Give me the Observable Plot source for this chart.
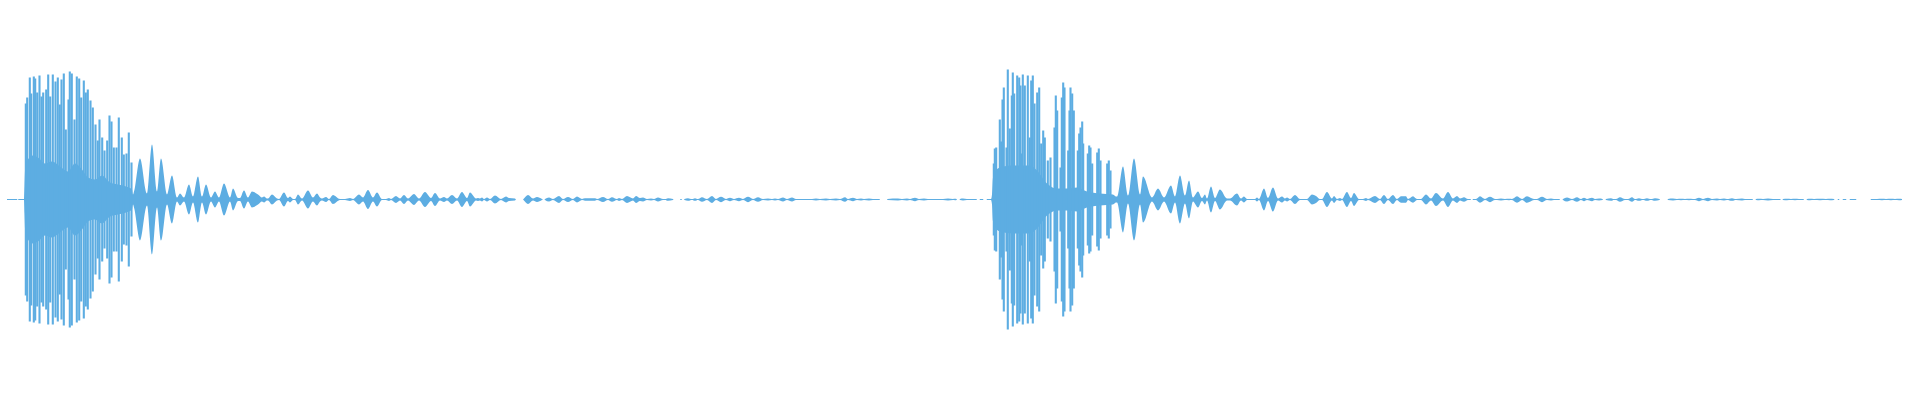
<!DOCTYPE html>
<html>
<head>
<meta charset="utf-8">
<script src="https://cdn.jsdelivr.net/npm/d3@7"></script>
<script src="https://cdn.jsdelivr.net/npm/@observablehq/plot@0.6"></script>
<style>
  html, body { margin: 0; padding: 0; background: #ffffff; }
  #chart svg { display: block; }
</style>
</head>
<body>
<div id="chart"></div>
<script>
// Waveform envelope knots: [time (ms), amplitude]
const lead = [[7,0.5],[17,0.5],[17.5,0],[18,0],[18.5,0.5],[23.5,0.5]];

const burst1Core = [[24,0.5],[24.5,14],[25.5,36],[28,40],[32,44],[38,42],[45,36],[52,38],[60,33],[68,28],[75,36],[82,30],[88,22],[95,20],[102,24],[110,17],[118,15],[126,13],[132,10],[133,5]];

const tail1 = [[134,8],[140,41],[147,6],[152,55],[157,8],[161,41],[167,5],[172,24],[177,2],[180,6],[184,2],
[189,15],[193,3],[198,23],[202,3],[206,15],[211,2],[215,8],[219,2],[224,16],[230,2],[233,11],[238,1.5],
[240,1.5],[244,9],[248,2],[252,8],[258,5],[262,2],[264,3],[267,1],[268,1],[272,5],[277,1],[279,0.5],[284,7],[288,1.5],
[290,3],[293,0.5],[295,0.5],[298,5],[302,1],[308,9],[313,2],[317,6],[320,2],[322,1],[326,2.5],[329,0.5],
[333,4.5],[340,0.5],[345,0.5],[350,1.5],[353,0.5],[359,5],[363,2],[368,9.5],[373,2],[377,7],[382,0.5],
[386,0.5],[389,1.5],[391,0.5],[396,3.5],[400,1],[404,4.5],[408,1],[414,5.5],[419,1],[425,7.5],[431,1.5],
[435,6.5],[440,1],[444,2.5],[447,1],[452,4.5],[457,1],[462,7.5],[467,1.5],[470,7],[476,1],
[478,1.5],[480,1],[482,2],[484,0.5],[487,2],[490,0.5],[495,4],[501,0.5],[506,3],[509,1.5],[515,1],[516,0],[523,0],[523.5,0.5],
[528,4.5],[533,1],[537,2.5],[542,0.5],[543,0],[544.5,0],[545,0.5],[549,2],[553,0.5],[559,3.5],[563,0.5],
[568,2.5],[573,0.5],[577,3],[582,0.5],[585,1.2],[595,1.2],[597,0.5],[603,2.5],[608,0.5],[612,2.3],[617,0.5],
[619,1.5],[622,0.5],[627,3.5],[633,1],[636,3.5],[640,1.5],[643,2],[647,0.5],[651,1],[654,0.5],[658,2],[663,0.5],
[665,0.5],[668,1.3],[673,0.5],[673.5,0],[680,0],[680.5,0.5],[681.5,0.5],[682,0],[684,0],[684.5,0.5],
[688,1.3],[692,0.5],[695,1.3],[698,0.5],[702,2.3],[707,0.5],[712,3.5],[716,0.5],[721,2.7],[726,0.5],
[730,1.7],[734,0.5],[739,1.7],[743,0.5],[748,2.7],[753,0.5],[758,2.3],[763,0.5],[768,1],[772,0.5],
[775,1],[778,0.5],[783,2],[787,0.5],[792,2],[796,0.5],[812,0.5],[816,1],[820,0.5],[826,1],[830,0.5],
[836,1],[840,0.5],[845,2.3],[848,0.5],[853,1.7],[857,0.5],[861,1],[864,0.5],[869,1],[873,0.5],
[879.5,0.5],[880,0],[887,0],[887.5,0.5],[898,1],[902,0.5],[907,1],[910,0.5],[915,1.7],[919,0.5],[924,1],[928,0.5],
[943,0.5],[948,1],[953,0.5],[955,0.7],[956.5,0.5],[957,0],[959.5,0],[960,0.5],[963,1],[967,0.5],
[976.5,0.5],[977,0],[979.5,0],[980,0.5],[983,0.5],[983.5,0],[986.5,0],[987,0.5],[991,0.5],[992,5]];

const burst2Core = [[993,22],[995,28],[1000,32],[1013,34],[1030,34],[1037,29],[1047,16],[1057,11],[1067,11],[1077,12],[1087,8],[1100,6],[1113,5],[1116,3]];

const tail2 = [[1117,3],[1123,33],[1128,4],[1134,41],[1140,5],[1143,23],[1152,2],[1158,11],[1164,2],[1171,14],[1175,3],
[1180,24],[1185,4],[1189,19],[1193,2],[1198,8],[1202,1.5],[1205,5],[1207,1],[1211,13],[1215,1.5],[1220,10],[1227,1],
[1230,1],[1237,6],[1241,1],[1244,3],[1247,0.5],[1255,0.5],[1257,2],[1259,0.5],[1264,11],[1268,1.5],[1273,12],[1278,1],
[1282,3],[1285,1],[1287,2],[1290,0.5],[1295,4.5],[1300,0.5],[1307,0.5],[1312,5],[1316,3.5],[1320,0.5],
[1322,0.5],[1327,7.5],[1332,1],[1334,3.5],[1337,0.5],[1340,1.5],[1342,0.5],[1347,7.5],[1351,1.5],[1354,6.5],[1359,0.5],
[1363,0.5],[1366,1.5],[1368,0.5],[1375,3.5],[1380,0.5],[1384,4.5],[1388,0.5],[1393,4.5],[1397,0.5],
[1401,3.3],[1406,3.3],[1408,0.5],[1413,3.3],[1417,0.5],[1421,0.5],[1426,5],[1431,1],[1436,6.5],[1443,1],
[1448,7.5],[1453,1],[1457,3.5],[1460,1],[1464,2.3],[1468,0.5],[1470.5,0.5],[1471,0],[1472.5,0],[1473,0.5],
[1476,0.5],[1480,3.3],[1485,0.5],[1490,2.7],[1495,0.5],[1497,0.5],[1501,1],[1505,0.5],[1509,0.7],[1512,0.5],
[1517,3.3],[1522,0.5],[1527,3.3],[1534,0.5],[1537,0.5],[1542,2.7],[1547,0.5],[1551,1],[1554,0.5],
[1559.5,0.5],[1560,0],[1562.5,0],[1563,0.5],[1567,2],[1572,0.5],[1577,2.3],[1581,0.5],[1584,1.7],[1587,0.5],
[1592,1.7],[1595,0.5],[1599,1],[1602.5,0.5],[1603,0],[1605.5,0],[1606,0.5],[1611,1.3],[1614,0.5],
[1616,0.5],[1620,2.3],[1625,0.5],[1628,0.5],[1632,2.3],[1635,0.5],[1639,1.3],[1643,0.5],[1647,1.3],[1651,0.5],
[1655,1.3],[1659.5,0.5],[1660,0],[1667.5,0],[1668,0.5],[1673,1],[1677,0.5],[1681,0.7],[1685,0.5],
[1689,0.7],[1693,0.5],[1695,0.5],[1699,1.7],[1703,0.5],[1708,1.7],[1712,0.5],[1717,1],[1720,0.5],
[1724,1],[1727,0.5],[1732,1.3],[1736,0.5],[1742,1],[1745,0.5],[1752.5,0.5],[1753,0],[1755.5,0],[1756,0.5],
[1759,0.7],[1763,0.5],[1768,1],[1773,0.5],[1780,0.5],[1781,0],[1782.5,0],[1783,0.5],[1787,0.7],[1791,0.5],
[1795,0.7],[1799,0.5],[1803.5,0.5],[1804,0],[1806.5,0],[1807,0.5],[1810,0.7],[1814,0.5],[1820,0.7],[1826,0.5],
[1830,0.7],[1834,0.5],[1834.5,0],[1837.5,0],[1838,0.5],[1839,0.5],[1839.5,0],[1842.5,0],[1843,0.5],
[1846,0.5],[1846.5,0],[1849.5,0],[1850,0.5],[1856,0.5],[1856.5,0],[1870.5,0],[1871,0.5],
[1877,0.5],[1882,0.7],[1886,0.5],[1891,0.7],[1895,0.5],[1899,0.7],[1902,0.5]];

// Peak spikes inside the two onsets: time (ms) and amplitude
const burst1SpikeT = [25.3,26.7,29.3,30.7,33.3,34.7,36.7,39,41,42.7,45.7,47.7,49.7,52.3,55,57.3,59.3,61,63.3,65.3,68,69.3,71.3,74,76.3,78.7,80.7,83.3,85.3,87.3,90,92.3,95,97.3,99,101.7,104,106.7,109,111,113.3,116,118.3,121.3,123.3,126,128.3,131];
const burst1SpikeA = [96,102,122,106,123,121,107,124,103,107,110,125,103,125,118,122,95,120,126,70,100,128,126,80,123,121,102,119,107,110,99,92,75,59,80,62,49,59,84,78,52,52,82,62,45,46,67,37];

const burst2SpikeT = [993.3,994.3,995.7,999.3,1000.7,1002,1003.3,1006,1007.3,1009.3,1011.3,1012.3,1013.7,1016.7,1018.7,1020,1021.3,1022.3,1024.3,1027.3,1029.3,1030.7,1032.3,1034,1036.7,1038.7,1040.7,1042.7,1044.3,1047.3,1050,1054,1055.3,1056.7,1060,1061.3,1062.7,1064,1067.7,1069,1070,1071.7,1073.3,1077.3,1078.7,1080,1081.7,1082.7,1087.3,1088.7,1090,1091.7,1096.7,1098.3,1100,1106.7,1108.3,1110];
const burst2SpikeA = [36,51,52,80,58,100,112,52,130,71,104,127,106,124,122,114,46,125,114,124,62,119,124,96,107,112,56,69,62,39,42,72,104,89,32,102,117,112,49,89,112,106,89,49,66,72,78,56,46,54,52,36,47,51,39,36,39,29];

const waveColor = "#5dade2";

const envelope = [...lead, ...burst1Core, ...tail1, ...burst2Core, ...tail2];
const spikes = [
  ...burst1SpikeT.map((t, i) => ({t, a: burst1SpikeA[i]})),
  ...burst2SpikeT.map((t, i) => ({t, a: burst2SpikeA[i]}))
];

const chart = Plot.plot({
  width: 1920,
  height: 400,
  marginTop: 0,
  marginBottom: 1,
  marginLeft: 0,
  marginRight: 0,
  x: {domain: [0, 1920], axis: null},
  y: {domain: [-199.5, 199.5], axis: null},
  marks: [
    Plot.area(envelope, {
      x1: d => d[0],
      y1: d => -d[1],
      y2: d => d[1],
      curve: "monotone-x",
      fill: waveColor
    }),
    Plot.ruleX(spikes, {
      x: "t",
      y1: d => -d.a,
      y2: d => d.a,
      stroke: waveColor,
      strokeWidth: 2.1
    })
  ]
});

document.getElementById("chart").appendChild(chart);
</script>
</body>
</html>
